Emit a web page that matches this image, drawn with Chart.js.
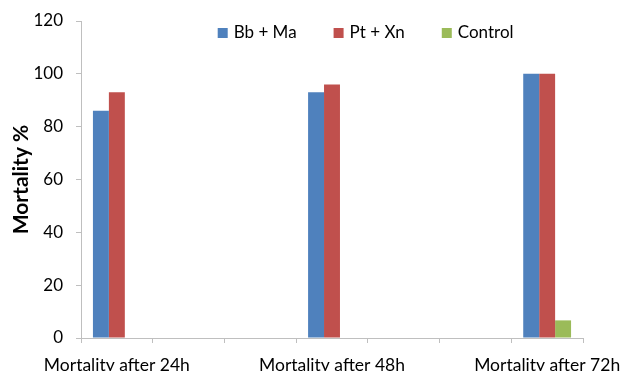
<!DOCTYPE html>
<html>
<head>
<meta charset="utf-8">
<script src="https://cdn.jsdelivr.net/npm/chart.js@4/dist/chart.umd.min.js"></script>
<style>
  html, body { margin: 0; padding: 0; background: #ffffff; }
  #wrap { width: 623px; height: 371px; position: relative; }
</style>
</head>
<body>
<div id="wrap"><canvas id="c" width="623" height="371"></canvas></div>
<script>
// Time points that carry data; two empty slots sit between each pair on the axis
const timePoints = ['Mortality after 24h', 'Mortality after 48h', 'Mortality after 72h'];
const seriesNames = ['Bb + Ma', 'Pt + Xn', 'Control'];
const bbMa = [86, 93, 100];
const ptXn = [93, 96, 100];
const control = [0, 0, 6.67];
const yTicks = [0, 20, 40, 60, 80, 100, 120];

const colors = ['#4F81BD', '#C0504D', '#9BBB59'];
const GAP_SLOTS = 2;

// Expand the time points into axis slots with blank spacers between them
const labels = [];
timePoints.forEach((t, i) => {
  labels.push(t);
  if (i < timePoints.length - 1) for (let k = 0; k < GAP_SLOTS; k++) labels.push('');
});
function spread(values) {
  const out = [];
  values.forEach((v, i) => {
    out.push(v);
    if (i < values.length - 1) for (let k = 0; k < GAP_SLOTS; k++) out.push(null);
  });
  return out;
}

const font = 'Lato, "Open Sans", "DejaVu Sans", sans-serif';
const axisGray = '#BFBFBF';

// Single-row legend drawn over the top of the plot area
const overlayLegend = {
  id: 'overlayLegend',
  afterDraw(chart) {
    const { ctx, chartArea } = chart;
    const box = 10, gap = 6, spacing = 37, size = 17;
    ctx.save();
    ctx.font = size + 'px ' + font;
    ctx.textBaseline = 'middle';
    ctx.textAlign = 'left';
    const items = chart.data.datasets.map(ds => ({
      text: ds.label, color: ds.backgroundColor, w: ctx.measureText(ds.label).width
    }));
    const total = items.reduce((s, it) => s + box + gap + it.w, 0) + spacing * (items.length - 1);
    const cx = chartArea.left + chartArea.width * 0.567;
    const cy = chartArea.top + 12;
    let x = cx - total / 2;
    items.forEach(it => {
      ctx.fillStyle = it.color;
      ctx.fillRect(x, cy - box / 2, box, box);
      ctx.fillStyle = '#000000';
      ctx.fillText(it.text, x + box + gap, cy);
      x += box + gap + it.w + spacing;
    });
    ctx.restore();
  }
};

new Chart(document.getElementById('c'), {
  type: 'bar',
  data: {
    labels: labels,
    datasets: [
      { label: seriesNames[0], data: spread(bbMa), backgroundColor: colors[0] },
      { label: seriesNames[1], data: spread(ptXn), backgroundColor: colors[1] },
      { label: seriesNames[2], data: spread(control), backgroundColor: colors[2] }
    ]
  },
  options: {
    responsive: false,
    animation: false,
    devicePixelRatio: 1,
    layout: { padding: { top: 21, right: 40, left: 0, bottom: 0 } },
    datasets: { bar: { categoryPercentage: 0.667, barPercentage: 1.0, borderWidth: 0 } },
    plugins: {
      tooltip: { enabled: false },
      legend: { display: false }
    },
    scales: {
      x: {
        offset: true,
        border: { display: true, color: axisGray, width: 1 },
        grid: { display: true, drawOnChartArea: false, drawTicks: true, tickLength: 5, color: axisGray, offset: true },
        ticks: {
          autoSkip: false,
          maxRotation: 0,
          minRotation: 0,
          padding: 12,
          color: '#000000',
          font: { family: font, size: 17.5 }
        },
        afterFit(scale) {
          scale.height = 33;
          scale.paddingLeft = 0;
          scale.paddingRight = 0;
        }
      },
      y: {
        min: 0,
        max: 120,
        afterBuildTicks(scale) { scale.ticks = yTicks.map(v => ({ value: v })); },
        border: { display: true, color: axisGray, width: 1 },
        grid: { display: true, drawOnChartArea: false, drawTicks: true, tickLength: 5, color: axisGray },
        ticks: {
          padding: 13,
          color: '#000000',
          font: { family: font, size: 17 }
        },
        title: {
          display: true,
          text: 'Mortality %',
          color: '#000000',
          padding: { top: 9, bottom: 0 },
          font: { family: font, size: 21, weight: 'bold' }
        },
        afterFit(scale) {
          scale.width = 81;
          scale.paddingTop = 0;
          scale.paddingBottom = 0;
        }
      }
    }
  },
  plugins: [overlayLegend]
});
</script>
</body>
</html>
